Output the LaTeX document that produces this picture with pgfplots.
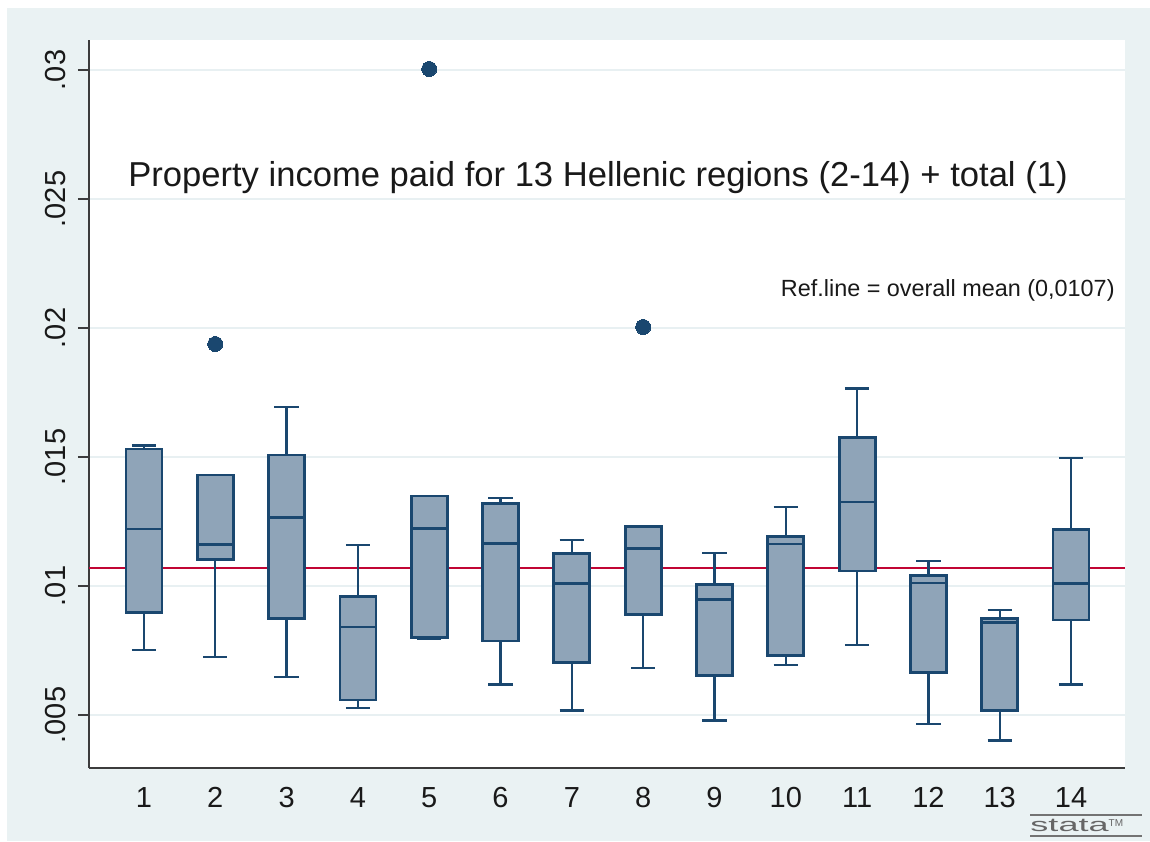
\documentclass[border=0pt]{standalone}
\usepackage{fontspec}
\setmainfont{Liberation Sans}
\usepackage{graphicx}
\usepackage{pgfplots}
\pgfplotsset{compat=1.18}
\usepgfplotslibrary{statistics}
\definecolor{stnavy}{RGB}{26,71,111}
\definecolor{stfill}{RGB}{143,164,184}
\definecolor{stbg}{RGB}{234,242,243}
\definecolor{stred}{RGB}{193,5,52}
\definecolor{stgrid}{RGB}{232,240,242}
\definecolor{staxis}{RGB}{60,60,60}
% values are given in thousandths (1 = 0.001)
\pgfplotsset{
  stbox/.style={
    boxplot prepared={#1},
    boxplot/draw direction=y,
    mark=*, mark size=3.75bp,
    mark options={fill=stnavy, draw=stnavy, line width=0pt},
    boxplot/box extend=0.505,
    boxplot/whisker extend=0.34,
    boxplot/every box/.style={draw=stnavy, fill=stfill, line width=1.4bp},
    boxplot/every whisker/.style={draw=stnavy, line width=1.2bp},
    boxplot/every median/.style={draw=stnavy, line width=1.4bp},
  }
}
\begin{document}
\begin{tikzpicture}[x=1bp,y=1bp]
\fill[white] (0,0) rectangle (575,420.5);
\fill[stbg] (3.5,0) rectangle (575,416.5);
\begin{axis}[
  at={(44.5bp,36.5bp)}, anchor=south west,
  scale only axis, width=518bp, height=364bp,
  xmin=0.229, xmax=14.757, ymin=2.946, ymax=31.163,
  axis background/.style={fill=white},
  axis x line*=bottom, axis y line*=left,
  axis line style={draw=staxis, line width=1bp, -},
  scaled y ticks=false,
  xtick={1,2,3,4,5,6,7,8,9,10,11,12,13,14},
  xticklabels={1,2,3,4,5,6,7,8,9,10,11,12,13,14},
  ytick={5,10,15,20,25,30},
  yticklabels={.005,.01,.015,.02,.025,.03},
  xtick style={draw=none},
  ytick style={draw=staxis, line width=1bp},
  tick align=outside, major tick length=5.5bp,
  ymajorgrids, grid style={stgrid, line width=1bp},
  ticklabel style={font=\fontsize{14.5bp}{17bp}\selectfont, text=black!90},
  yticklabel style={xshift=-6bp, rotate=90, anchor=south, inner sep=0pt},
  xticklabel style={anchor=north, inner sep=0pt, yshift=-4bp},
  clip=false,
]
\addplot[stred, line width=1bp] coordinates {(0.229,10.7) (14.757,10.7)};

\addplot[stbox={draw position=1, lower whisker=7.52, lower quartile=8.97, median=12.21, upper quartile=15.31, upper whisker=15.44}] coordinates {};
\addplot[stbox={draw position=2, lower whisker=7.26, lower quartile=11.03, median=11.62, upper quartile=14.30, upper whisker=14.30}] table[row sep=\\, y index=0] {y\\ 19.38\\};
\addplot[stbox={draw position=3, lower whisker=6.48, lower quartile=8.75, median=12.67, upper quartile=15.08, upper whisker=16.93}] coordinates {};
\addplot[stbox={draw position=4, lower whisker=5.28, lower quartile=5.58, median=8.41, upper quartile=9.59, upper whisker=11.59}] coordinates {};
\addplot[stbox={draw position=5, lower whisker=7.95, lower quartile=8.00, median=12.22, upper quartile=13.49, upper whisker=13.49}] table[row sep=\\, y index=0] {y\\ 30.04\\};
\addplot[stbox={draw position=6, lower whisker=6.19, lower quartile=7.87, median=11.65, upper quartile=13.21, upper whisker=13.40}] coordinates {};
\addplot[stbox={draw position=7, lower whisker=5.17, lower quartile=7.04, median=10.10, upper quartile=11.25, upper whisker=11.78}] coordinates {};
\addplot[stbox={draw position=8, lower whisker=6.83, lower quartile=8.90, median=11.46, upper quartile=12.31, upper whisker=12.31}] table[row sep=\\, y index=0] {y\\ 20.04\\};
\addplot[stbox={draw position=9, lower whisker=4.79, lower quartile=6.54, median=9.47, upper quartile=10.07, upper whisker=11.28}] coordinates {};
\addplot[stbox={draw position=10, lower whisker=6.95, lower quartile=7.31, median=11.63, upper quartile=11.93, upper whisker=13.07}] coordinates {};
\addplot[stbox={draw position=11, lower whisker=7.71, lower quartile=10.58, median=13.26, upper quartile=15.75, upper whisker=17.66}] coordinates {};
\addplot[stbox={draw position=12, lower whisker=4.66, lower quartile=6.66, median=10.12, upper quartile=10.41, upper whisker=10.97}] coordinates {};
\addplot[stbox={draw position=13, lower whisker=4.02, lower quartile=5.19, median=8.59, upper quartile=8.75, upper whisker=9.07}] coordinates {};
\addplot[stbox={draw position=14, lower whisker=6.19, lower quartile=8.68, median=10.10, upper quartile=12.20, upper whisker=14.97}] coordinates {};
\end{axis}
\node[anchor=base, inner sep=0pt, text=black!90, font=\fontsize{17.3bp}{20bp}\selectfont] at (299,327.15) {Property income paid for 13 Hellenic regions (2-14) + total (1)};
\node[anchor=base east, inner sep=0pt, text=black!90, font=\fontsize{11.7bp}{14bp}\selectfont] at (557.5,272.25) {Ref.line = overall mean (0,0107)};
\draw[black!55, line width=0.8bp] (515,13) -- (571,13);
\draw[black!55, line width=0.8bp] (515,2.5) -- (571,2.5);
\node[anchor=base west, inner sep=0pt, text=black!60, font=\fontsize{9.5bp}{10bp}\selectfont] at (515,4.6) {\scalebox{1.9}[1]{stata}\raisebox{2.5bp}{\fontsize{5bp}{5bp}\selectfont TM}};
\end{tikzpicture}
\end{document}
